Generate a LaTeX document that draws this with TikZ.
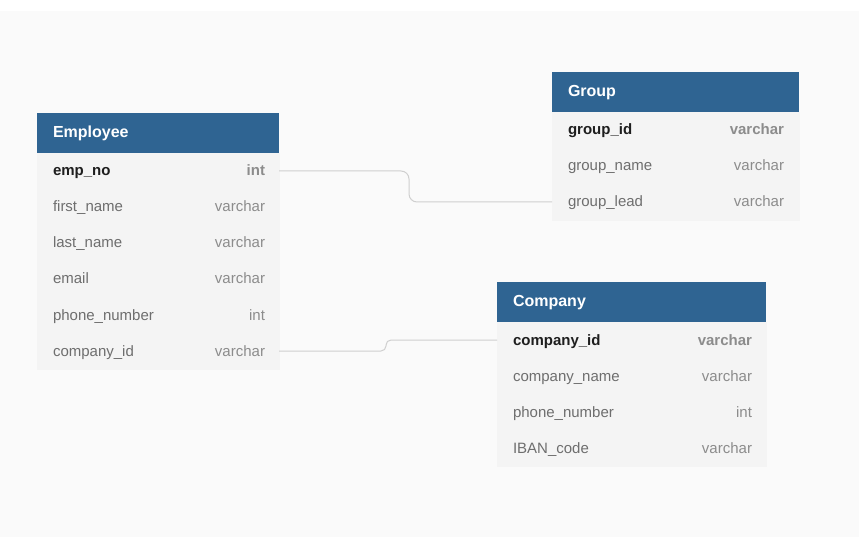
\documentclass[tikz,border=0pt]{standalone}
\usepackage{fontspec}
\setmainfont{Liberation Sans}
\definecolor{bgcol}{HTML}{FAFAFA}
\definecolor{hdrcol}{RGB}{47,100,146}
\definecolor{rowcol}{HTML}{F4F4F4}
\definecolor{keycol}{HTML}{1E1E1E}
\definecolor{fieldcol}{HTML}{6E6E6E}
\definecolor{typecol}{HTML}{8C8C8C}
\definecolor{linkcol}{HTML}{CFCFCF}

\begin{document}
\begin{tikzpicture}[x=1pt,y=-1pt]
\tikzstyle{every node}+=[inner ysep=0pt, outer sep=0pt]
\tikzstyle{head}=[fill=hdrcol, text=white, anchor=north west, align=left,
  inner xsep=16pt, minimum height=40pt, text height=14pt, text depth=4pt,
  font=\fontsize{16}{19}\selectfont\bfseries]
\tikzstyle{field}=[fill=rowcol, draw=rowcol, line width=0.6pt, text=fieldcol,
  anchor=north west, align=left,
  inner xsep=16pt, minimum height=36pt, text height=13pt, text depth=3pt,
  font=\fontsize{15}{18}\selectfont]
\tikzstyle{keyfield}=[field, text=keycol, font=\fontsize{15}{18}\selectfont\bfseries]
\tikzstyle{vtype}=[anchor=east, inner xsep=0pt, text=typecol,
  text height=13pt, text depth=3pt, font=\fontsize{15}{18}\selectfont]
\tikzstyle{keytype}=[vtype, font=\fontsize{15}{18}\selectfont\bfseries]
\tikzstyle{link}=[draw=linkcol, line width=1pt]

\useasboundingbox (0,0) rectangle (862,537);
\fill [white] (0,0) rectangle (862,537);
\fill [bgcol] (0,11) rectangle (859,537);

% Employee
\node [head, text width=210pt] (emp) at (37,113) {Employee};
\node [keyfield, text width=210pt] (e1) at (emp.south west) {emp\_no};
\node [field, text width=210pt] (e2) at (e1.south west) {first\_name};
\node [field, text width=210pt] (e3) at (e2.south west) {last\_name};
\node [field, text width=210pt] (e4) at (e3.south west) {email};
\node [field, text width=210pt] (e5) at (e4.south west) {phone\_number};
\node [field, text width=210pt] (e6) at (e5.south west) {company\_id};
\node [keytype] (e1t) at ([xshift=-14pt]e1.east) {int};
\node [vtype] (e2t) at ([xshift=-14pt]e2.east) {varchar};
\node [vtype] (e3t) at ([xshift=-14pt]e3.east) {varchar};
\node [vtype] (e4t) at ([xshift=-14pt]e4.east) {varchar};
\node [vtype] (e5t) at ([xshift=-14pt]e5.east) {int};
\node [vtype] (e6t) at ([xshift=-14pt]e6.east) {varchar};

% Group
\node [head, text width=215pt] (grp) at (552,72) {Group};
\node [keyfield, text width=215pt] (g1) at (grp.south west) {group\_id};
\node [field, text width=215pt] (g2) at (g1.south west) {group\_name};
\node [field, text width=215pt] (g3) at (g2.south west) {group\_lead};
\node [keytype] (g1t) at ([xshift=-15pt]g1.east) {varchar};
\node [vtype] (g2t) at ([xshift=-15pt]g2.east) {varchar};
\node [vtype] (g3t) at ([xshift=-15pt]g3.east) {varchar};

% Company
\node [head, text width=237pt] (cmp) at (497,282) {Company};
\node [keyfield, text width=237pt] (c1) at (cmp.south west) {company\_id};
\node [field, text width=237pt] (c2) at (c1.south west) {company\_name};
\node [field, text width=237pt] (c3) at (c2.south west) {phone\_number};
\node [field, text width=237pt] (c4) at (c3.south west) {IBAN\_code};
\node [keytype] (c1t) at ([xshift=-14pt]c1.east) {varchar};
\node [vtype] (c2t) at ([xshift=-14pt]c2.east) {varchar};
\node [vtype] (c3t) at ([xshift=-14pt]c3.east) {int};
\node [vtype] (c4t) at ([xshift=-14pt]c4.east) {varchar};

% relations
\draw [link, rounded corners=8pt] (e1.east) -- ++(130,0) |- (g3.west);
\draw [link, rounded corners=5pt] (e6.east) -- ++(107,0) |- (c1.west);
\end{tikzpicture}
\end{document}
